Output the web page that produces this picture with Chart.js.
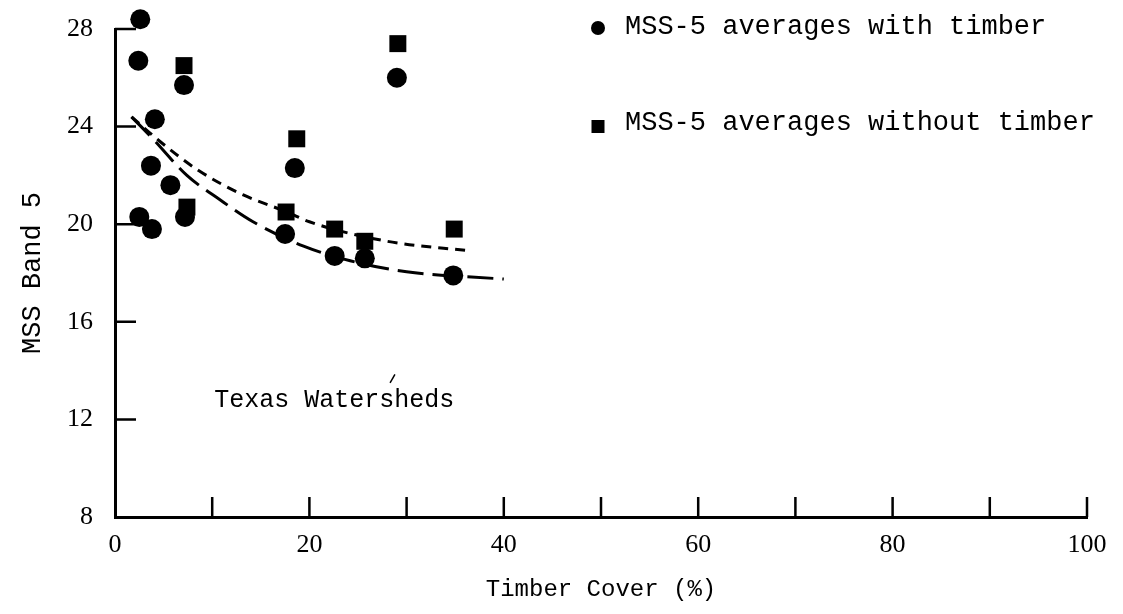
<!DOCTYPE html>
<html>
<head>
<meta charset="utf-8">
<title>MSS Band 5 vs Timber Cover</title>
<script src="https://cdn.jsdelivr.net/npm/chart.js"></script>
<style>
  html, body { margin: 0; padding: 0; background: #fff; }
  #wrap { width: 1123px; height: 614px; }
</style>
</head>
<body>
<div id="wrap"><canvas id="timberChart"></canvas></div>
<script>
// Texas watersheds: MSS band 5 averages against timber cover
const withTimberX = [2.6, 2.4, 7.1, 4.1, 3.7, 5.7, 2.5, 3.8, 7.2, 18.5, 29.0, 17.5, 22.6, 25.7, 34.8];
const withTimberY = [28.4, 26.7, 25.7, 24.3, 22.4, 21.6, 20.3, 19.8, 20.3, 22.3, 26.0, 19.6, 18.7, 18.6, 17.9];
const withoutTimberX = [7.1, 7.4, 18.7, 29.1, 17.6, 22.6, 25.7, 34.9];
const withoutTimberY = [26.5, 20.7, 23.5, 27.4, 20.5, 19.8, 19.3, 19.8];

// hand drawn trend curves
const curveWithX = [1.7, 3.9, 7.4, 10.8, 14.2, 19.4, 24.2, 30.0, 40.0];
const curveWithY = [24.4, 23.5, 22.0, 21.0, 20.1, 19.1, 18.5, 18.05, 17.75];
const curveWithoutX = [1.7, 4.6, 8.6, 13.2, 17.7, 20.0, 28.0, 36.7];
const curveWithoutY = [24.4, 23.4, 22.2, 21.2, 20.5, 20.1, 19.3, 18.9];

const xLabels = [0, 20, 40, 60, 80, 100];
const yLabels = [8, 12, 16, 20, 24, 28];

const seriesNames = ['MSS-5 averages with timber', 'MSS-5 averages without timber'];

const toPoints = (xs, ys) => xs.map((v, i) => ({x: v, y: ys[i]}));
const mono = 'Liberation Mono, Courier New, monospace';
const serif = 'Liberation Serif, Times New Roman, serif';

// inward tick marks, the note and the legend
const paperMarks = {
  id: 'paperMarks',
  afterDraw(chart) {
    const {ctx, chartArea, scales: {x, y}} = chart;
    ctx.save();
    ctx.strokeStyle = '#000';
    ctx.lineWidth = 2.5;
    ctx.beginPath();
    x.ticks.forEach(t => {
      if (t.value === 0) return;
      const px = x.getPixelForValue(t.value);
      ctx.moveTo(px, chartArea.bottom);
      ctx.lineTo(px, chartArea.bottom - 20);
    });
    y.ticks.forEach(t => {
      if (t.value === 8) return;
      const py = y.getPixelForValue(t.value);
      ctx.moveTo(chartArea.left, py);
      ctx.lineTo(chartArea.left + 21, py);
    });
    ctx.stroke();

    // "Texas Watersheds" note
    ctx.fillStyle = '#000';
    ctx.font = '25px ' + mono;
    ctx.textAlign = 'left';
    ctx.textBaseline = 'middle';
    ctx.fillText('Texas Watersheds', x.getPixelForValue(10.2), y.getPixelForValue(12.8));
    ctx.lineWidth = 1.5;
    ctx.beginPath();
    ctx.moveTo(x.getPixelForValue(28.3), y.getPixelForValue(13.5));
    ctx.lineTo(x.getPixelForValue(28.8), y.getPixelForValue(13.85));
    ctx.stroke();

    // legend
    const lx = chartArea.left + 483;
    ctx.font = '27px ' + mono;
    ctx.beginPath();
    ctx.arc(lx, chartArea.top - 1, 7, 0, Math.PI * 2);
    ctx.fill();
    ctx.fillText(seriesNames[0], lx + 27, chartArea.top - 2);
    ctx.fillRect(lx - 6.5, chartArea.top + 91, 13, 13);
    ctx.fillText(seriesNames[1], lx + 27, chartArea.top + 94);
    ctx.restore();
  }
};

new Chart(document.getElementById('timberChart'), {
  type: 'scatter',
  data: {
    datasets: [
      {
        label: seriesNames[0],
        data: toPoints(withTimberX, withTimberY),
        pointStyle: 'circle',
        pointRadius: 10,
        backgroundColor: '#000',
        borderColor: '#000',
        borderWidth: 0,
        clip: false
      },
      {
        label: seriesNames[1],
        data: toPoints(withoutTimberX, withoutTimberY),
        pointStyle: 'rect',
        pointRadius: 12,
        backgroundColor: '#000',
        borderColor: '#000',
        borderWidth: 0,
        clip: false
      },
      {
        label: 'trend with timber',
        data: toPoints(curveWithX, curveWithY),
        showLine: true,
        pointRadius: 0,
        borderColor: '#000',
        borderWidth: 3,
        borderDash: [26, 9],
        cubicInterpolationMode: 'monotone',
        clip: false
      },
      {
        label: 'trend without timber',
        data: toPoints(curveWithoutX, curveWithoutY),
        showLine: true,
        pointRadius: 0,
        borderColor: '#000',
        borderWidth: 3,
        borderDash: [10, 7],
        cubicInterpolationMode: 'monotone',
        clip: false
      }
    ]
  },
  options: {
    responsive: true,
    maintainAspectRatio: false,
    animation: false,
    layout: { padding: { left: 0, right: 36, top: 29, bottom: 0 } },
    plugins: {
      legend: { display: false },
      tooltip: { enabled: false }
    },
    scales: {
      x: {
        type: 'linear',
        min: 0,
        max: 100,
        grid: { display: false, drawTicks: false },
        border: { display: true, color: '#000', width: 3 },
        ticks: {
          stepSize: 10,
          autoSkip: false,
          maxRotation: 0,
          padding: 13,
          color: '#000',
          font: { family: serif, size: 26 },
          callback: v => xLabels.includes(v) ? String(v) : ''
        },
        title: {
          display: true,
          text: 'Timber Cover (%)',
          color: '#000',
          font: { family: mono, size: 24, lineHeight: 1.2 },
          padding: { top: 0, bottom: 10 }
        },
        afterFit: s => { s.height = 97; }
      },
      y: {
        type: 'linear',
        min: 8,
        max: 28,
        grid: { display: false, drawTicks: false },
        border: { display: true, color: '#000', width: 3 },
        ticks: {
          stepSize: 4,
          autoSkip: false,
          padding: 22,
          color: '#000',
          font: { family: serif, size: 26 },
          callback: v => yLabels.includes(v) ? String(v) : ''
        },
        title: {
          display: true,
          text: 'MSS Band 5',
          color: '#000',
          font: { family: mono, size: 27, lineHeight: 1.2 },
          padding: { top: 17, bottom: 0 }
        },
        afterFit: s => { s.width = 115; s.paddingTop = 0; s.paddingBottom = 0; }
      }
    }
  },
  plugins: [paperMarks]
});
</script>
</body>
</html>
